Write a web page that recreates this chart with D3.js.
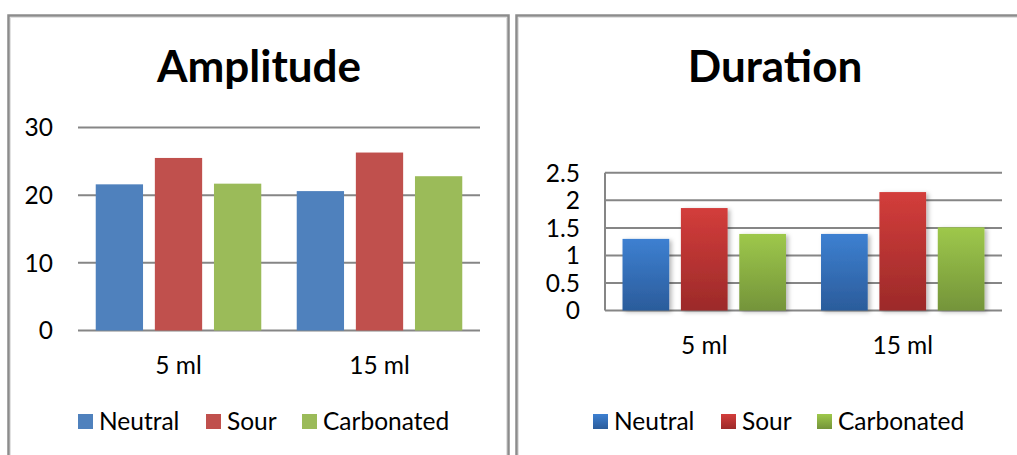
<!DOCTYPE html>
<html>
<head>
<meta charset="utf-8">
<script src="https://cdn.jsdelivr.net/npm/d3@7"></script>
<style>
  html, body { margin: 0; padding: 0; background: #fff; }
  svg { display: block; }
  text { font-family: Lato, "Open Sans", sans-serif; fill: #000; }
</style>
</head>
<body>
<svg id="chart" width="1017" height="455"></svg>
<script>
// Categories and series
const categories = ["5 ml", "15 ml"];
const seriesNames = ["Neutral", "Sour", "Carbonated"];

// Amplitude values per series (5 ml, 15 ml)
const amplitudeNeutral = [21.6, 20.6];
const amplitudeSour = [25.5, 26.3];
const amplitudeCarbonated = [21.7, 22.8];
const amplitudeTicks = [0, 10, 20, 30];

// Duration values per series (5 ml, 15 ml)
const durationNeutral = [1.3, 1.39];
const durationSour = [1.86, 2.15];
const durationCarbonated = [1.39, 1.51];
const durationTicks = [0, 0.5, 1, 1.5, 2, 2.5];

const svg = d3.select("#chart");
const defs = svg.append("defs");

// Flat colours (left panel) and gradient stops (right panel)
const flatColors = ["#4f81bd", "#c0504d", "#9bbb59"];
const gradColors = [["#3d80d1", "#2b5c9b"], ["#d33d3b", "#9c2a29"], ["#9ec84b", "#74943a"]];

gradColors.forEach((c, i) => {
  const g = defs.append("linearGradient")
    .attr("id", "grad" + i).attr("x1", 0).attr("y1", 0).attr("x2", 0).attr("y2", 1);
  g.append("stop").attr("offset", "0%").attr("stop-color", c[0]);
  g.append("stop").attr("offset", "100%").attr("stop-color", c[1]);
});

const shadow = defs.append("filter").attr("id", "barShadow")
  .attr("x", "-20%").attr("y", "-10%").attr("width", "150%").attr("height", "130%");
shadow.append("feDropShadow").attr("dx", 2.5).attr("dy", 1.5)
  .attr("stdDeviation", 2.2).attr("flood-color", "#000").attr("flood-opacity", 0.28);

const labelSize = 24.5;

const panels = [
  {
    title: "Amplitude",
    values: [amplitudeNeutral, amplitudeSour, amplitudeCarbonated],
    ticks: amplitudeTicks,
    domain: [0, 30],
    frame: [8.5, 15.5, 500, 470],
    xRange: [78, 480],
    yRange: [330.5, 127.5],
    titleX: 259,
    tickX: 53,
    catY: 374,
    axisLine: false,
    gradient: false,
    legendX: [78, 206, 302]
  },
  {
    title: "Duration",
    values: [durationNeutral, durationSour, durationCarbonated],
    ticks: durationTicks,
    domain: [0, 2.5],
    frame: [516.5, 15.5, 520, 470],
    xRange: [605, 1002],
    yRange: [310.5, 172.8],
    titleX: 775,
    tickX: 580,
    catY: 354,
    axisLine: true,
    gradient: true,
    legendX: [593, 721, 817]
  }
];

panels.forEach(p => {
  const g = svg.append("g");

  // chart frame with a faint inner edge
  g.append("rect")
    .attr("x", p.frame[0]).attr("y", p.frame[1])
    .attr("width", p.frame[2]).attr("height", p.frame[3])
    .attr("fill", "#fff").attr("stroke", "#8c8c8c").attr("stroke-width", 2.5);
  g.append("rect")
    .attr("x", p.frame[0] + 2).attr("y", p.frame[1] + 2)
    .attr("width", p.frame[2] - 4).attr("height", p.frame[3] - 4)
    .attr("fill", "none").attr("stroke", "#e2e2e2").attr("stroke-width", 1);

  // title
  g.append("text")
    .attr("x", p.titleX).attr("y", 81.5)
    .attr("text-anchor", "middle")
    .attr("font-size", 44).attr("font-weight", "bold")
    .text(p.title);

  const y = d3.scaleLinear().domain(p.domain).range(p.yRange);
  const x0 = d3.scaleBand().domain(categories).range(p.xRange).padding(0);
  const x1 = d3.scaleBand().domain(seriesNames).range([0, x0.bandwidth()])
    .paddingInner(0.2).paddingOuter(0.3);

  // gridlines
  g.append("g").selectAll("line").data(p.ticks).join("line")
    .attr("x1", p.xRange[0]).attr("x2", p.xRange[1])
    .attr("y1", d => y(d)).attr("y2", d => y(d))
    .attr("stroke", "#868686").attr("stroke-width", 2);

  if (p.axisLine) {
    g.append("line")
      .attr("x1", p.xRange[0]).attr("x2", p.xRange[0])
      .attr("y1", y(p.domain[1])).attr("y2", y(0))
      .attr("stroke", "#868686").attr("stroke-width", 2);
  }

  // y tick labels
  g.append("g").selectAll("text").data(p.ticks).join("text")
    .attr("x", p.tickX).attr("y", d => y(d)).attr("dy", "0.36em")
    .attr("text-anchor", "end").attr("font-size", labelSize)
    .text(d => d3.format("~g")(d));

  // bars
  const rows = [];
  p.values.forEach((vals, si) => {
    vals.forEach((v, ci) => rows.push({ s: si, c: categories[ci], v }));
  });
  g.append("g").selectAll("rect").data(rows).join("rect")
    .attr("x", d => x0(d.c) + x1(seriesNames[d.s]))
    .attr("width", x1.bandwidth())
    .attr("y", d => y(d.v))
    .attr("height", d => y(0) - y(d.v))
    .attr("fill", d => p.gradient ? `url(#grad${d.s})` : flatColors[d.s])
    .attr("filter", p.gradient ? "url(#barShadow)" : null);

  // category labels
  g.append("g").selectAll("text").data(categories).join("text")
    .attr("x", d => x0(d) + x0.bandwidth() / 2).attr("y", p.catY)
    .attr("text-anchor", "middle").attr("font-size", labelSize)
    .text(d => d);

  // legend
  const leg = g.append("g").selectAll("g").data(seriesNames).join("g")
    .attr("transform", (d, i) => `translate(${p.legendX[i]},414)`);
  leg.append("rect")
    .attr("width", 15).attr("height", 15)
    .attr("fill", (d, i) => p.gradient ? `url(#grad${i})` : flatColors[i]);
  leg.append("text")
    .attr("x", 21).attr("y", 16)
    .attr("font-size", labelSize)
    .text(d => d);
});
</script>
</body>
</html>
